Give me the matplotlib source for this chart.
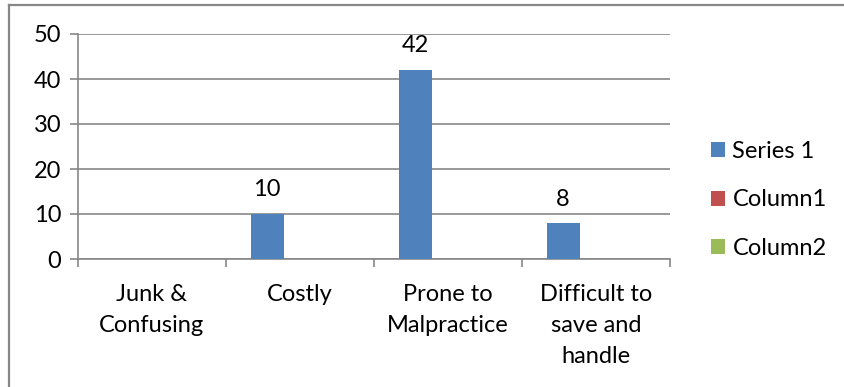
import numpy as np
import matplotlib
matplotlib.use("Agg")
import matplotlib.pyplot as plt
from matplotlib.lines import Line2D

plt.rcParams['font.family'] = ['Lato', 'DejaVu Sans']

# data for the chart
categories = ["Junk &\nConfusing", "Costly", "Prone to\nMalpractice", "Difficult to\nsave and\nhandle"]
series_1 = [np.nan, 10, 42, 8]
column1 = [np.nan, np.nan, np.nan, np.nan]
column2 = [np.nan, np.nan, np.nan, np.nan]
series_names = ["Series 1", "Column1", "Column2"]
colors = ["#4F81BD", "#C0504D", "#9BBB59"]
y_ticks = [0, 10, 20, 30, 40, 50]

FS = 17
W, H = 844, 387
fig = plt.figure(figsize=(W / 100, H / 100), dpi=100)
ax = fig.add_axes([78 / W, 1 - 259 / H, (670 - 78) / W, (259 - 34) / H])

x = np.arange(len(categories))
w = 1 / 4.5
grid_c = "#878787"

for k, (vals, name, c) in enumerate(zip([series_1, column1, column2], series_names, colors)):
    bars = ax.bar(x + (k - 1) * w, np.nan_to_num(vals), width=w, color=c, label=name, zorder=3)
    for b, v in zip(bars, vals):
        if not np.isnan(v):
            ax.text(b.get_x() + b.get_width() / 2, v + 3.0, f"{v:g}", ha="center", va="bottom",
                    fontsize=FS, color="black")

ax.set_xlim(-0.5, len(categories) - 0.5)
ax.set_ylim(0, 50)
ax.set_yticks(y_ticks)
ax.yaxis.grid(True, color=grid_c, linewidth=1.2, zorder=0)
ax.tick_params(axis="y", length=6, color=grid_c, width=1.2, labelsize=FS, pad=6)

# category labels in the middle, tick marks on the boundaries
ax.set_xticks(x)
ax.set_xticklabels(categories, fontsize=FS, linespacing=1.6)
ax.tick_params(axis="x", length=0, pad=18)
ax.set_xticks(np.arange(len(categories) + 1) - 0.5, minor=True)
ax.tick_params(axis="x", which="minor", length=6, color=grid_c, width=1.2)

for s in ["top", "right"]:
    ax.spines[s].set_visible(False)
for s in ["left", "bottom"]:
    ax.spines[s].set_color(grid_c)
    ax.spines[s].set_linewidth(1.2)

ax.legend(loc="center left", bbox_to_anchor=(690 / W, 1 - 200 / H), bbox_transform=fig.transFigure,
          frameon=False, fontsize=FS, handlelength=0.6, handleheight=0.6, handletextpad=0.3,
          labelspacing=1.17)

# chart border
fig.add_artist(Line2D([8.5 / W, 8.5 / W], [0, 1 - 4.5 / H], color=grid_c, linewidth=1.6))
fig.add_artist(Line2D([8.5 / W, 1], [1 - 4.5 / H, 1 - 4.5 / H], color=grid_c, linewidth=1.6))

fig.savefig("out.png", dpi=100)
